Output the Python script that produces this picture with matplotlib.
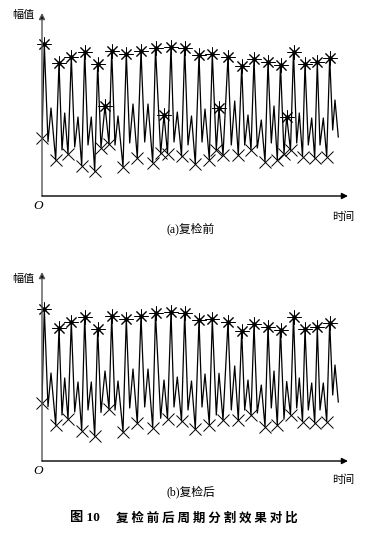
import matplotlib
matplotlib.use("Agg")
import matplotlib.pyplot as plt

cjk = ['Noto Sans CJK SC', 'DejaVu Sans']
mixed = ['Liberation Serif', 'Noto Sans CJK SC']

# signal vertices (time, amplitude)
signal_t = [0, 2.3, 6, 9, 13.7, 17, 20, 22.7, 26, 29.3, 32.7, 36, 39.7, 42.7, 46, 49.3,
            52.7, 55.7, 59, 63, 67, 69.7, 73, 76, 81, 84.3, 87.7, 91, 95.3, 99, 102.7,
            106, 110.7, 113.5, 118.7, 122, 125.5, 129, 132, 135.3, 139.5, 142.7, 146,
            149.5, 153.3, 157, 160, 163, 167.3, 170.3, 174.3, 177, 181, 186, 189.3,
            192.7, 196.3, 199.7, 202.7, 206, 209, 212, 215.3, 219.3, 223, 226, 229.3,
            232, 235.3, 238.5, 242, 244.7, 248.5, 251.5, 254.7, 257.3, 260.5, 263,
            266.3, 269.7, 272.7, 275.3, 278, 281.3, 284.7, 287.7, 290.7, 293, 296.3]
signal_amp = [58, 152, 54.3, 88, 36, 133, 46, 83, 42, 139.3, 49, 79, 30.5, 144.5, 51, 79,
              25, 132, 48.5, 90, 52, 145, 51, 80, 29.3, 142.5, 53, 92, 38, 145, 54,
              92, 33.5, 147.7, 42.7, 81, 42.5, 149.3, 54, 84, 40, 148.3, 51,
              80, 32, 141, 54, 87, 36.5, 142, 46, 87.7, 41, 139.3, 51,
              95, 41, 130, 51, 81, 46, 136.7, 48, 76, 34.3, 134.3, 53,
              90, 36, 131.5, 42, 79.5, 46, 144.3, 53, 83, 39.5, 132.5,
              51, 78, 38, 133.8, 51, 78, 39.5, 138.5, 66, 96, 59]

# indices of the detected points
peak_idx = [1, 5, 9, 13, 17, 21, 25, 29, 33, 37, 41, 45, 49, 53, 57, 61, 65, 69,
            73, 77, 81, 85]
trough_idx = [0, 4, 8, 12, 16, 20, 24, 28, 32, 36, 40, 44, 48, 52, 56, 60, 64, 68,
              72, 76, 80, 84]
false_peak_idx = [19, 35, 51, 71]
false_trough_idx = [18, 34, 50, 70]

W, H = 366, 534
fig = plt.figure(figsize=(W / 100, H / 100), dpi=100)


def panel(rect, ymax, peaks, troughs):
    ax = fig.add_axes(rect)
    ax.plot(signal_t, signal_amp, color='k', lw=0.9)
    px = [signal_t[i] for i in peaks]
    py = [signal_amp[i] for i in peaks]
    ax.plot(px, py, ls='none', marker=(8, 2, 0), ms=10, mew=0.7, mec='k',
            clip_on=False)
    ax.plot(px, py, ls='none', marker='o', ms=2.2, mfc='k', mec='k',
            clip_on=False)
    tx = [signal_t[i] for i in troughs]
    ty = [signal_amp[i] for i in troughs]
    ax.plot(tx, ty, ls='none', marker='x', ms=8, mew=0.7, mec='k', clip_on=False)
    ax.set_xlim(0, 306)
    ax.set_ylim(0, ymax)
    ax.axis('off')
    # axes drawn as arrows
    ax.annotate('', xy=(0, 1), xytext=(0, 0), xycoords='axes fraction',
                arrowprops=dict(arrowstyle='-|>', color='#555555', lw=1,
                                mutation_scale=9, shrinkA=0, shrinkB=0,
                                fc='k'))
    ax.annotate('', xy=(1, 0), xytext=(0, 0), xycoords='axes fraction',
                arrowprops=dict(arrowstyle='-|>', color='k', lw=1,
                                mutation_scale=9, shrinkA=0, shrinkB=0))
    return ax


def ftext(x, y, s, **kw):
    fig.text(x / W, 1 - y / H, s, ha='center', va='center', **kw)


panel([42 / W, (H - 196) / H, 306 / W, 183 / H], 183,
      peak_idx + false_peak_idx, trough_idx + false_trough_idx)
panel([42 / W, (H - 461) / H, 306 / W, 189 / H], 189, peak_idx, trough_idx)

for y_axis_lab, y_o, y_time, y_sub, sub in [(15, 206, 217, 229, '(a)复检前'),
                                             (279, 471, 480, 492, '(b)复检后')]:
    ftext(23.5, y_axis_lab, '幅值', family=cjk, fontsize=8)
    ftext(38.5, y_o, 'O', family='Liberation Serif', style='italic', fontsize=9.5)
    ftext(343, y_time, '时间', family=cjk, fontsize=8)
    ftext(191, y_sub, sub, family=mixed, fontsize=8.5)

ftext(85, 518, '图 10', family=mixed, fontsize=9.5, weight='bold')
ftext(206.5, 518, '复 检 前 后 周 期 分 割 效 果 对 比', family=cjk, fontsize=9,
      weight='bold')

fig.savefig('out.png', dpi=100)
